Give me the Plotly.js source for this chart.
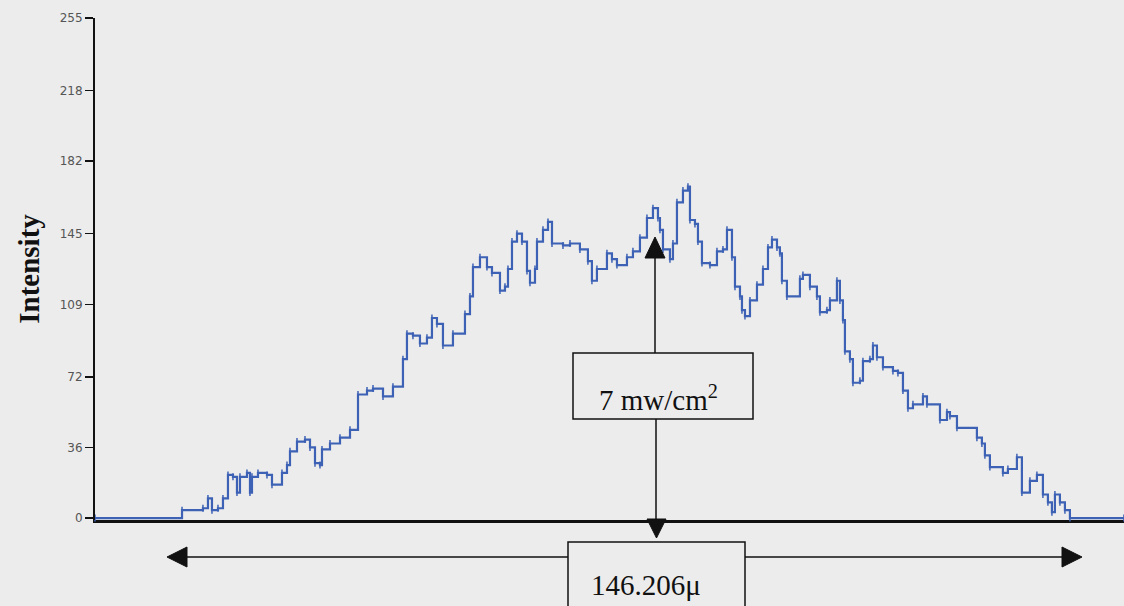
<!DOCTYPE html>
<html>
<head>
<meta charset="utf-8">
<script src="https://cdn.plot.ly/plotly-3.0.1.min.js"></script>
<style>
  html, body { margin: 0; padding: 0; background: #ececec; }
  #chart { width: 1124px; height: 606px; }
</style>
</head>
<body>
<div id="chart"></div>
<script>
// Beam profile: position across the beam (µm) and pixel intensity (0-255)
const positionUm = [
  0, 13.92, 17.27, 18.07, 18.71, 19.67, 20.47, 21.27, 22.07, 22.71,
  23.19, 24.31, 24.79, 25.11, 26.07, 27.51, 28.31, 29.91, 30.71, 31.19,
  32.31, 33.59, 34.39, 35.19, 35.99, 36.31, 37.59, 39.19, 40.79, 42.07,
  43.51, 44.47, 46.07, 47.66, 49.26, 49.90, 50.86, 51.98, 53.10, 53.90,
  54.70, 55.66, 57.26, 59.18, 59.98, 60.46, 61.58, 62.70, 63.50, 64.78,
  65.58, 66.06, 66.70, 67.50, 68.30, 69.10, 69.58, 70.38, 70.70, 71.66,
  72.46, 73.10, 74.86, 75.98, 77.57, 78.85, 79.49, 80.29, 81.89, 82.69,
  83.49, 85.09, 86.05, 87.17, 88.29, 89.25, 90.05, 90.37, 90.85, 91.97,
  92.45, 93.09, 94.05, 94.85, 95.17, 95.97, 96.45, 97.09, 98.37, 99.49,
  100.45, 101.09, 101.89, 102.37, 103.17, 103.49, 103.97, 104.77, 105.89, 106.85,
  107.65, 108.29, 109.09, 109.56, 109.88, 110.68, 112.76, 113.24, 114.36, 115.48,
  115.96, 117.08, 117.56, 118.68, 119.16, 119.64, 119.96, 120.76, 121.24, 122.36,
  122.84, 123.96, 124.44, 125.08, 126.04, 127.64, 128.44, 129.24, 130.04, 130.84,
  132.44, 133.08, 135.16, 136.28, 136.76, 137.88, 141.07, 141.87, 142.35, 143.15,
  145.23, 146.03, 147.47, 148.27, 149.55, 150.67, 151.63, 152.43, 153.07, 153.55,
  154.35, 155.15, 155.95, 164.59
];
const intensity = [
  0, 4, 5, 10, 4, 5, 10, 22, 21, 13,
  21, 23, 13, 21, 23, 22, 17, 23, 27, 34,
  39, 40, 36, 28, 27, 35, 38, 41, 45, 63,
  65, 66, 62, 67, 81, 94, 93, 89, 92, 102,
  99, 88, 94, 104, 113, 128, 133, 128, 125, 116,
  118, 127, 141, 145, 141, 126, 120, 127, 141, 147,
  151, 140, 139, 140, 137, 131, 121, 127, 135, 132,
  129, 133, 136, 143, 153, 158, 153, 147, 137, 132,
  140, 161, 167, 169, 152, 150, 141, 130, 129, 136,
  137, 147, 133, 118, 113, 106, 103, 111, 119, 127,
  138, 142, 138, 135, 121, 113, 122, 124, 118, 113,
  105, 106, 111, 121, 111, 101, 85, 81, 69, 70,
  80, 81, 88, 82, 77, 75, 74, 65, 56, 58,
  62, 58, 50, 54, 52, 46, 41, 38, 32, 26,
  23, 25, 31, 13, 19, 22, 12, 8, 3, 12,
  8, 4, 0, 0
];
const yTickVals = [0, 36, 72, 109, 145, 182, 218, 255];
const yTickText = ['0', '36', '72', '109', '145', '182', '218', '255'];
const powerLabel = '7 mw/cm<sup>2</sup>';
const widthLabel = '146.206\u03bc';

const ink = '#111111';
const lineBlue = '#3d62b5';

const trace = {
  type: 'scatter',
  mode: 'lines+markers',
  x: positionUm,
  y: intensity,
  line: { shape: 'hv', color: lineBlue, width: 2.2 },
  marker: { symbol: 'line-ns-open', size: 5, color: lineBlue, line: { color: lineBlue, width: 1.5 } },
  cliponaxis: false,
  hoverinfo: 'x+y'
};

// helpers for paper coords (plot area: x 95..1124, y 18..520 px)
const px = v => (v - 95) / 1029;
const py = v => (520 - v) / 502;
const tri = (pts) => 'M ' + pts.map(p => px(p[0]) + ',' + py(p[1])).join(' L ') + ' Z';

const shapes = [
  // up arrow from box to peak
  { type: 'line', xref: 'paper', yref: 'paper', x0: px(655), x1: px(655), y0: py(257), y1: py(353), line: { color: ink, width: 1.5 } },
  { type: 'path', xref: 'paper', yref: 'paper', path: tri([[655, 237], [645, 258], [665, 258]]), fillcolor: ink, line: { color: ink, width: 1 } },
  // power box
  { type: 'rect', xref: 'paper', yref: 'paper', x0: px(573), x1: px(753), y0: py(419), y1: py(353), line: { color: ink, width: 1.5 } },
  // down arrow to axis
  { type: 'line', xref: 'paper', yref: 'paper', x0: px(656), x1: px(656), y0: py(419), y1: py(520), line: { color: ink, width: 1.5 } },
  { type: 'path', xref: 'paper', yref: 'paper', path: tri([[647, 519], [666, 519], [656.5, 538]]), fillcolor: ink, line: { color: ink, width: 1 } },
  // width box
  { type: 'rect', xref: 'paper', yref: 'paper', x0: px(568), x1: px(745), y0: py(620), y1: py(542), line: { color: ink, width: 1.5 } },
  // horizontal double arrow
  { type: 'line', xref: 'paper', yref: 'paper', x0: px(186), x1: px(568), y0: py(557), y1: py(557), line: { color: ink, width: 1.5 } },
  { type: 'line', xref: 'paper', yref: 'paper', x0: px(745), x1: px(1063), y0: py(557), y1: py(557), line: { color: ink, width: 1.5 } },
  { type: 'path', xref: 'paper', yref: 'paper', path: tri([[167, 557], [187, 547], [187, 567]]), fillcolor: ink, line: { color: ink, width: 1 } },
  { type: 'path', xref: 'paper', yref: 'paper', path: tri([[1082, 557], [1062, 547], [1062, 567]]), fillcolor: ink, line: { color: ink, width: 1 } }
];

const serif = 'Liberation Serif, Times New Roman, serif';
const annotations = [
  { xref: 'paper', yref: 'paper', x: px(658), y: py(398), xanchor: 'center', yanchor: 'middle',
    text: powerLabel, showarrow: false, font: { family: serif, size: 29, color: ink } },
  { xref: 'paper', yref: 'paper', x: px(646), y: py(585), xanchor: 'center', yanchor: 'middle',
    text: widthLabel, showarrow: false, font: { family: serif, size: 29, color: ink } }
];

const layout = {
  width: 1124,
  height: 606,
  margin: { l: 95, r: 0, t: 18, b: 86 },
  paper_bgcolor: '#ececec',
  plot_bgcolor: '#ececec',
  showlegend: false,
  font: { family: 'DejaVu Sans, sans-serif', size: 12, color: '#555555' },
  xaxis: {
    range: [0, 164.6],
    showticklabels: false,
    ticks: '',
    showgrid: false,
    zeroline: false,
    showline: true,
    linecolor: ink,
    linewidth: 2.5,
    layer: 'below traces',
    fixedrange: true
  },
  yaxis: {
    range: [-1, 255],
    tickvals: yTickVals,
    ticktext: yTickText,
    ticks: 'outside',
    ticklen: 8,
    tickwidth: 1.5,
    tickcolor: ink,
    showgrid: false,
    zeroline: false,
    showline: true,
    linecolor: ink,
    linewidth: 2,
    tickfont: { family: 'DejaVu Sans, sans-serif', size: 12, color: '#555555' },
    title: { text: '<b>Intensity</b>', standoff: 12,
             font: { family: serif, size: 29, color: ink } },
    fixedrange: true
  },
  shapes: shapes,
  annotations: annotations
};

Plotly.newPlot('chart', [trace], layout, { displayModeBar: false, staticPlot: true });
</script>
</body>
</html>
